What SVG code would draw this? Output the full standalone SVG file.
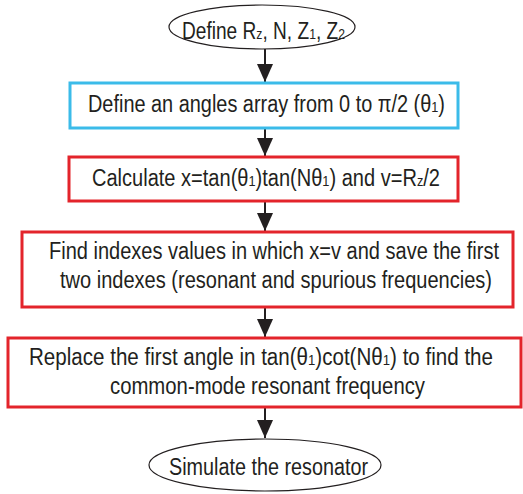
<svg xmlns="http://www.w3.org/2000/svg" width="523" height="494" viewBox="0 0 523 494">
<style>
text{font-family:"Liberation Sans",Arial,sans-serif;font-size:23.5px;fill:#231f20}
.sub{font-size:15px}
.term{fill:#fff;stroke:#231f20;stroke-width:1.2}
.blue{fill:#fff;stroke:#3bbbe9;stroke-width:3}
.red{fill:#fff;stroke:#e3242b;stroke-width:3}
.conn{stroke:#231f20;stroke-width:2;fill:none}
</style>
<defs>
<marker id="ah" markerUnits="userSpaceOnUse" markerWidth="18" markerHeight="16" refX="18" refY="8" orient="auto">
<path d="M0,0 L18,8 L0,16 Z" fill="#231f20"/>
</marker>
</defs>
<g id="connectors">
<line class="conn" x1="265" y1="49" x2="265" y2="82" marker-end="url(#ah)"/>
<line class="conn" x1="265" y1="129" x2="265" y2="156" marker-end="url(#ah)"/>
<line class="conn" x1="265" y1="202" x2="265" y2="231" marker-end="url(#ah)"/>
<line class="conn" x1="265" y1="308" x2="265" y2="337" marker-end="url(#ah)"/>
<line class="conn" x1="265" y1="408" x2="265" y2="438" marker-end="url(#ah)"/>
</g>
<g id="start">
<ellipse class="term" cx="262" cy="27" rx="93" ry="22"/>
<text x="182" y="39" textLength="163" lengthAdjust="spacingAndGlyphs">Define R<tspan class="sub">z</tspan>, N, Z<tspan class="sub">1</tspan>, Z<tspan class="sub">2</tspan></text>
</g>
<g id="define-angles">
<rect class="blue" x="70" y="83" width="388" height="45"/>
<text x="88" y="112" textLength="357" lengthAdjust="spacingAndGlyphs">Define an angles array from 0 to π/2 (θ<tspan class="sub">1</tspan>)</text>
</g>
<g id="calculate">
<rect class="red" x="69" y="157" width="389" height="44"/>
<text x="92" y="186" textLength="348" lengthAdjust="spacingAndGlyphs">Calculate x=tan(θ<tspan class="sub">1</tspan>)tan(Nθ<tspan class="sub">1</tspan>) and v=R<tspan class="sub">z</tspan>/2</text>
</g>
<g id="find-indexes">
<rect class="red" x="22" y="232" width="491" height="75"/>
<text x="49" y="259" textLength="450" lengthAdjust="spacingAndGlyphs">Find indexes values in which x=v  and save the first</text>
<text x="60" y="288" textLength="432" lengthAdjust="spacingAndGlyphs">two indexes (resonant and spurious frequencies)</text>
</g>
<g id="replace">
<rect class="red" x="8" y="338" width="513" height="69"/>
<text x="29" y="365" textLength="464" lengthAdjust="spacingAndGlyphs">Replace the first angle in tan(θ<tspan class="sub">1</tspan>)cot(Nθ<tspan class="sub">1</tspan>) to find the</text>
<text x="110" y="394" textLength="315" lengthAdjust="spacingAndGlyphs">common-mode resonant frequency</text>
</g>
<g id="simulate">
<ellipse class="term" cx="265" cy="465" rx="116" ry="26"/>
<text x="169" y="475" textLength="199" lengthAdjust="spacingAndGlyphs">Simulate the resonator</text>
</g>
</svg>
